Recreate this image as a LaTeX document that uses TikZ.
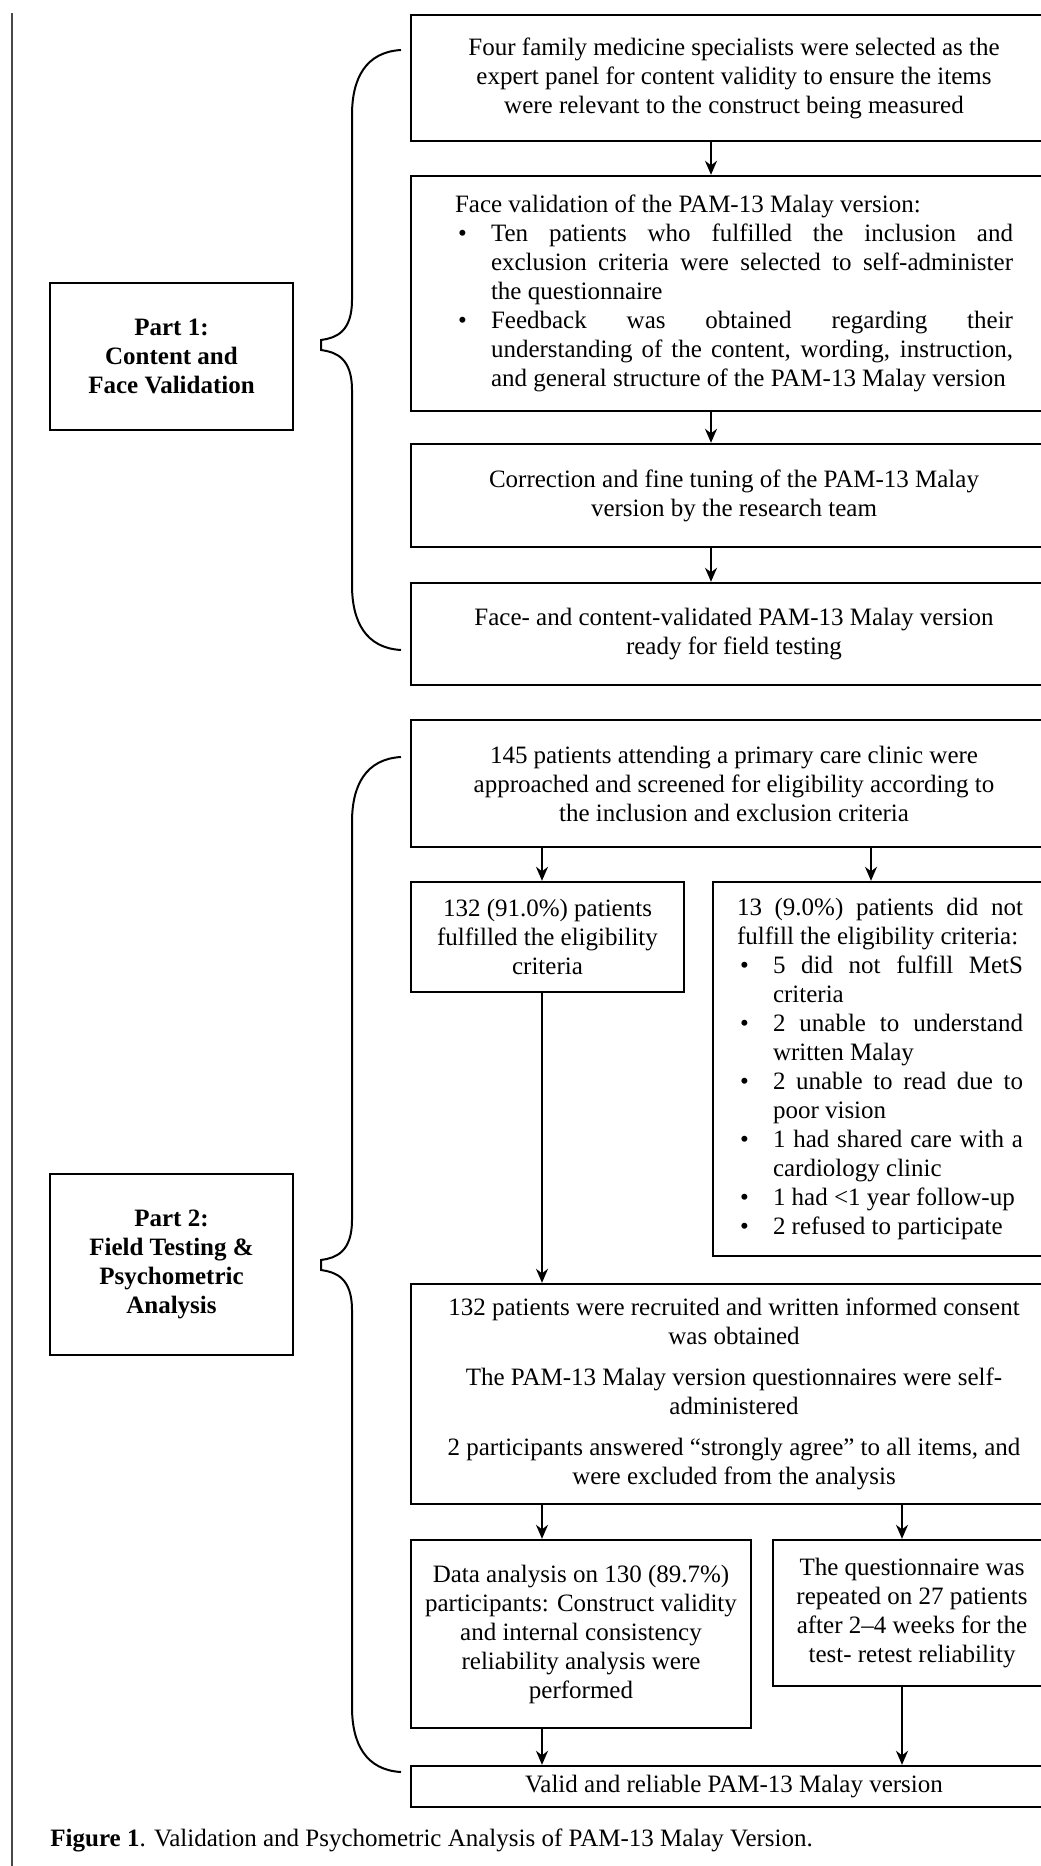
\documentclass[tikz,border=0pt]{standalone}
\usepackage{fontspec}
\setmainfont{Liberation Serif}
\usepackage{enumitem}
\usetikzlibrary{arrows.meta,positioning}
\tikzset{font=\fontsize{12.5}{14.5}\selectfont}
\tikzstyle{blk}=[draw,line width=1.2pt,inner sep=0pt,align=center]
\tikzstyle{lst}=[draw,line width=1.2pt,inner sep=0pt,align=justify]
\tikzstyle{part}=[blk,font=\fontsize{12.5}{14.5}\selectfont\bfseries]
\tikzstyle{arr}=[-{Stealth[length=7pt,width=6pt]},line width=1pt]
\tikzstyle{brc}=[line width=1pt]
\setlist[itemize]{label=\textbullet,leftmargin=18pt,labelwidth=10pt,labelsep=6.5pt,align=left,topsep=0pt,itemsep=0pt,parsep=0pt,partopsep=0pt}

\begin{document}
\begin{tikzpicture}[x=0.5pt,y=-0.5pt]
\useasboundingbox (0,0) rectangle (1040,1866);
\draw[line width=1.35pt,black!72] (12,13) -- (12,1870);

% part 1
\node[blk,minimum width=323pt,minimum height=63pt] (spec) at (734,78) {Four family medicine specialists were selected as the\\expert panel for content validity to ensure the items\\were relevant to the construct being measured};
\node[lst,text width=279pt,minimum width=323pt,minimum height=117.5pt] (face) at (734,293.5) {Face validation of the PAM-13 Malay version:
\begin{itemize}
\item Ten patients who fulfilled the inclusion and\linebreak exclusion criteria were selected to self-administer\linebreak the questionnaire
\item Feedback was obtained regarding their\linebreak understanding of the content, wording, instruction,\linebreak and general structure of the PAM-13 Malay version
\end{itemize}};
\node[blk,minimum width=323pt,minimum height=51.5pt] (fine) at (734,495.5) {Correction and fine tuning of the PAM-13 Malay\\version by the research team};
\node[blk,minimum width=323pt,minimum height=51pt] (ready) at (734,634) {Face- and content-validated PAM-13 Malay version\\ready for field testing};
\node[part,minimum width=121.5pt,minimum height=73.5pt] (pone) at (171.5,356.5) {Part 1:\\Content and\\Face Validation};

% part 2
\node[blk,minimum width=323pt,minimum height=63.5pt] (screen) at (734,783.5) {145 patients attending a primary care clinic were\\approached and screened for eligibility according to\\the inclusion and exclusion criteria};
\node[blk,minimum width=136.5pt,minimum height=55pt] (elig) at (547.5,937) {132 (91.0\%) patients\\fulfilled the eligibility\\criteria};
\node[lst,text width=143pt,minimum width=167pt,minimum height=187pt] (noelig) at (880,1069) {13 (9.0\%) patients did not\linebreak fulfill the eligibility criteria:
\begin{itemize}
\item 5 did not fulfill MetS\linebreak criteria
\item 2 unable to understand\linebreak written Malay
\item 2 unable to read due to\linebreak poor vision
\item 1 had shared care with a\linebreak cardiology clinic
\item 1 had <1 year follow-up
\item 2 refused to participate
\end{itemize}};
\node[blk,minimum width=323pt,minimum height=110pt] (recruit) at (734,1394) {132 patients were recruited and written informed consent\\was obtained\\[6pt]The PAM-13 Malay version questionnaires were self-\\administered\\[6pt]2 participants answered “strongly agree” to all items, and\\were excluded from the analysis};
\node[blk,minimum width=170pt,minimum height=94pt] (anal) at (581,1634) {Data analysis on 130 (89.7\%)\\participants: Construct validity\\and internal consistency\\reliability analysis were\\performed};
\node[blk,minimum width=139pt,minimum height=73pt] (retest) at (912,1613) {The questionnaire was\\repeated on 27 patients\\after 2–4 weeks for the\\test- retest reliability};
\node[blk,minimum width=323pt,minimum height=20.5pt] (valid) at (734,1786.5) {Valid and reliable PAM-13 Malay version};
\node[part,minimum width=121.5pt,minimum height=90.5pt] (ptwo) at (171.5,1264.5) {Part 2:\\Field Testing \&\\Psychometric\\Analysis};

\node[anchor=west,inner sep=0pt] (cap) at (50,1840) {\textbf{Figure 1}. Validation and Psychometric Analysis of PAM-13 Malay Version.};

% arrow columns
\coordinate (ca) at (711,0);
\coordinate (cl) at (542,0);
\coordinate (cr) at (871,0);
\coordinate (cs) at (902,0);
\draw[arr] (spec.south -| ca) -- (face.north -| ca);
\draw[arr] (face.south -| ca) -- (fine.north -| ca);
\draw[arr] (fine.south -| ca) -- (ready.north -| ca);
\draw[arr] (screen.south -| cl) -- (elig.north -| cl);
\draw[arr] (screen.south -| cr) -- (noelig.north -| cr);
\draw[arr] (elig.south -| cl) -- (recruit.north -| cl);
\draw[arr] (recruit.south -| cl) -- (anal.north -| cl);
\draw[arr] (recruit.south -| cs) -- (retest.north -| cs);
\draw[arr] (anal.south -| cl) -- (valid.north -| cl);
\draw[arr] (retest.south -| cs) -- (valid.north -| cs);

% braces
\draw[brc] (401,50) .. controls (366,52) and (352,78) .. (352,115) -- (352,300)
  .. controls (352,332) and (336,338) .. (321,340) -- (321,350)
  .. controls (336,352) and (352,358) .. (352,390) -- (352,585)
  .. controls (352,622) and (366,648) .. (401,650);
\draw[brc] (401,757) .. controls (366,759) and (352,785) .. (352,822) -- (352,1220)
  .. controls (352,1252) and (336,1258) .. (321,1260) -- (321,1270)
  .. controls (336,1272) and (352,1278) .. (352,1310) -- (352,1707)
  .. controls (352,1744) and (366,1770) .. (401,1772);
\end{tikzpicture}
\end{document}
